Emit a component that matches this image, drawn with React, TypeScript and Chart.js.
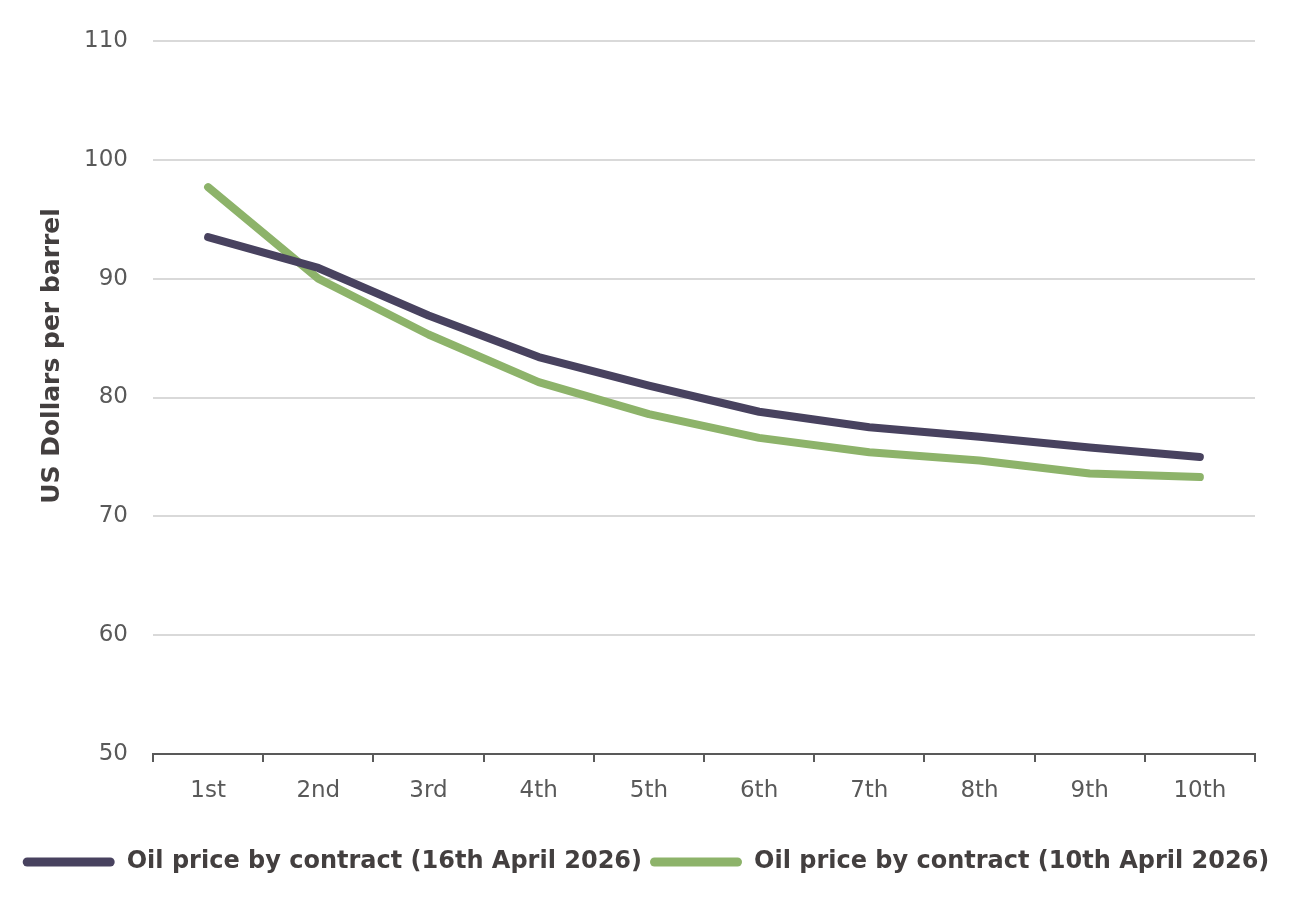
import React, { useEffect, useRef } from "react";
import { Chart, registerables } from "chart.js";

Chart.register(...registerables);

const categories = ["1st", "2nd", "3rd", "4th", "5th", "6th", "7th", "8th", "9th", "10th"];
const april16 = [93.5, 90.9, 86.9, 83.4, 81.0, 78.8, 77.5, 76.7, 75.8, 75.0];
const april10 = [97.7, 90.0, 85.3, 81.3, 78.6, 76.6, 75.4, 74.7, 73.6, 73.3];
const seriesNames = [
  "Oil price by contract (16th April 2026)",
  "Oil price by contract (10th April 2026)",
];
const yTitle = "US Dollars per barrel";

const FONT = "'DejaVu Sans', sans-serif";

export default function App() {
  const ref = useRef<HTMLCanvasElement | null>(null);

  useEffect(() => {
    document.body.style.margin = "0";
    const canvas = ref.current;
    if (!canvas) return;

    const titlePlugin = {
      id: "yTitle",
      afterDraw(chart: any) {
        const ctx = chart.ctx;
        ctx.save();
        ctx.translate(52, 356);
        ctx.rotate(-Math.PI / 2);
        ctx.font = `bold 25px ${FONT}`;
        ctx.fillStyle = "#433f3f";
        ctx.textAlign = "center";
        ctx.textBaseline = "middle";
        ctx.fillText(yTitle, 0, 0);
        ctx.restore();
      },
    };

    const chart = new Chart(canvas, {
      type: "line",
      data: {
        labels: categories,
        datasets: [
          {
            label: seriesNames[0],
            data: april16,
            borderColor: "#48425f",
            backgroundColor: "#48425f",
            borderWidth: 8,
            borderCapStyle: "round",
            borderJoinStyle: "round",
            pointRadius: 0,
            tension: 0,
          },
          {
            label: seriesNames[1],
            data: april10,
            borderColor: "#8db36a",
            backgroundColor: "#8db36a",
            borderWidth: 8,
            borderCapStyle: "round",
            borderJoinStyle: "round",
            pointRadius: 0,
            tension: 0,
          },
        ],
      },
      options: {
        animation: false,
        responsive: false,
        layout: { padding: { top: 41, right: 0, left: 0, bottom: 25 } },
        plugins: {
          tooltip: { enabled: false },
          legend: {
            position: "bottom",
            labels: {
              boxWidth: 92,
              boxHeight: 9,
              useBorderRadius: true,
              borderRadius: 4.5,
              padding: 8,
              color: "#433f3f",
              font: { family: FONT, size: 24, weight: "bold" },
              generateLabels(chart: any) {
                const items = Chart.defaults.plugins.legend.labels.generateLabels(chart);
                return items.map((it: any) => ({ ...it, lineWidth: 0 }));
              },
            },
          },
        },
        scales: {
          x: {
            offset: true,
            grid: {
              offset: true,
              drawOnChartArea: false,
              drawTicks: true,
              tickLength: 8,
              color: "#595959",
              lineWidth: 2,
            },
            border: { display: true, color: "#595959", width: 2 },
            ticks: {
              padding: 15,
              color: "#595959",
              font: { family: FONT, size: 23 },
            },
            afterFit(scale: any) {
              scale.height = 88;
            },
          },
          y: {
            min: 50,
            max: 110,
            ticks: {
              stepSize: 10,
              padding: 25,
              color: "#595959",
              font: { family: FONT, size: 23 },
            },
            grid: {
              drawTicks: false,
              color: "#d9d9d9",
              lineWidth: 2,
            },
            border: { display: false },
            afterFit(scale: any) {
              scale.width = 153;
            },
          },
          spacer: {
            type: "linear",
            position: "right",
            display: true,
            ticks: { display: false },
            grid: { display: false, drawOnChartArea: false },
            border: { display: false },
            afterFit(scale: any) {
              scale.width = 37;
            },
          },
        },
      },
      plugins: [titlePlugin],
    });

    return () => chart.destroy();
  }, []);

  return (
    <div style={{ width: 1292, height: 909 }}>
      <canvas ref={ref} width={1292} height={909} />
    </div>
  );
}
